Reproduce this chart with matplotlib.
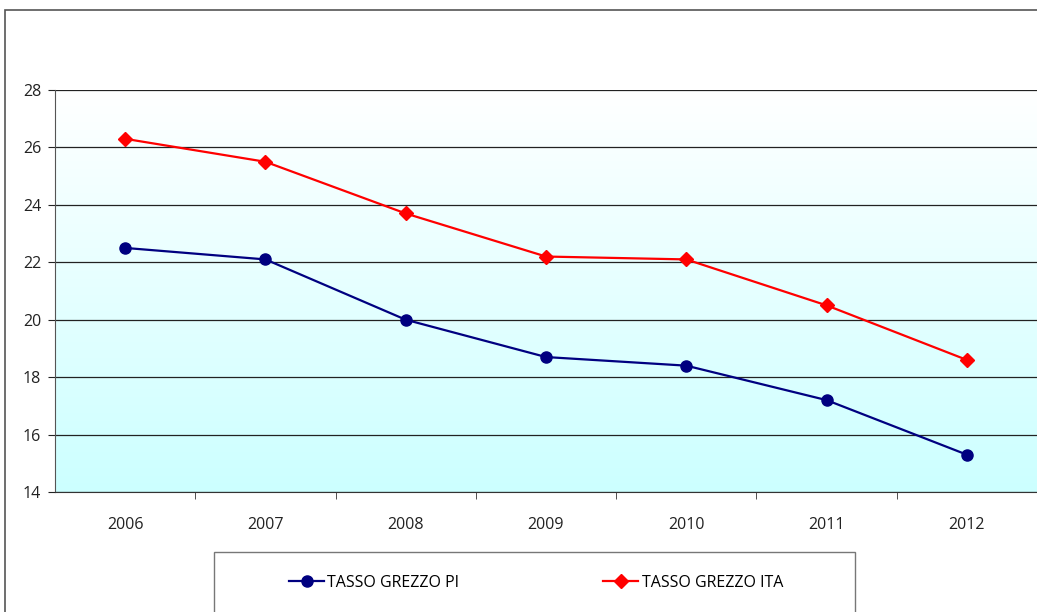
import numpy as np
import matplotlib.pyplot as plt
from matplotlib.lines import Line2D
from matplotlib.patches import Rectangle

plt.rcParams["font.family"] = ["Open Sans", "DejaVu Sans"]

years = ["2006", "2007", "2008", "2009", "2010", "2011", "2012"]
tasso_pi = [22.5, 22.1, 20.0, 18.7, 18.4, 17.2, 15.3]
tasso_ita = [26.3, 25.5, 23.7, 22.2, 22.1, 20.5, 18.6]

W, H = 1037, 612
fig = plt.figure(figsize=(W / 100, H / 100), dpi=100)

# outer chart frame (cut off at right/bottom like the screenshot)
fig.patches.append(Rectangle((5 / W, -0.05), 1.1, 1 - 10 / H + 0.05,
                             transform=fig.transFigure, fill=False,
                             edgecolor="#555555", lw=1.2, zorder=0))

ax = fig.add_axes([55 / W, 1 - 492 / H, 1 - 55 / W, (492 - 90) / H])
x = np.arange(len(years))

# gradient fill white -> light cyan
grad = np.linspace(0, 1, 256)
top = np.array([1.0, 1.0, 1.0])
bottom = np.array([0.80, 1.0, 1.0])
img = (top + (bottom - top) * grad[:, None])[:, None, :]
ax.imshow(img, aspect="auto", extent=(-0.5, len(years) - 0.5, 14, 28),
          origin="upper", zorder=0)

ax.plot(x, tasso_pi, color="#000080", lw=1.6, marker="o", ms=8, zorder=3)
ax.plot(x, tasso_ita, color="#FF0000", lw=1.6, marker="D", ms=7, zorder=3)

ax.set_xlim(-0.5, len(years) - 0.5)
ax.set_ylim(14, 28)
ax.set_yticks(np.arange(14, 29, 2))
ax.yaxis.grid(True, color="#222222", lw=0.9)
ax.set_axisbelow(True)

ax.set_xticks(x)
ax.set_xticklabels(years)
ax.set_xticks(np.arange(0.5, len(years) - 0.5, 1), minor=True)
ax.tick_params(axis="x", which="major", length=0, pad=18, labelsize=11.5,
               colors="#222222")
ax.tick_params(axis="x", which="minor", length=5, direction="out",
               color="#333333")
ax.tick_params(axis="y", length=5, direction="out", labelsize=11.5,
               colors="#222222", pad=5)

for s in ["top", "right"]:
    ax.spines[s].set_visible(False)
ax.spines["left"].set_color("#555555")
ax.spines["bottom"].set_color("#333333")

# legend box
fig.patches.append(Rectangle((214 / W, -0.05), (855 - 214) / W,
                             1 - 552 / H + 0.05, transform=fig.transFigure,
                             fill=False, edgecolor="#777777", lw=1.0))
handles = [
    Line2D([], [], color="#000080", lw=1.6, marker="o", ms=8),
    Line2D([], [], color="#FF0000", lw=1.6, marker="D", ms=7),
]
fig.legend(handles, ["TASSO GREZZO PI", "TASSO GREZZO ITA"], ncol=2,
           loc="center", bbox_to_anchor=(536 / W, 1 - 583 / H),
           frameon=False, fontsize=11.5, handlelength=2.2,
           handletextpad=0.2, columnspacing=9.0)

fig.savefig("out.png", dpi=100)
